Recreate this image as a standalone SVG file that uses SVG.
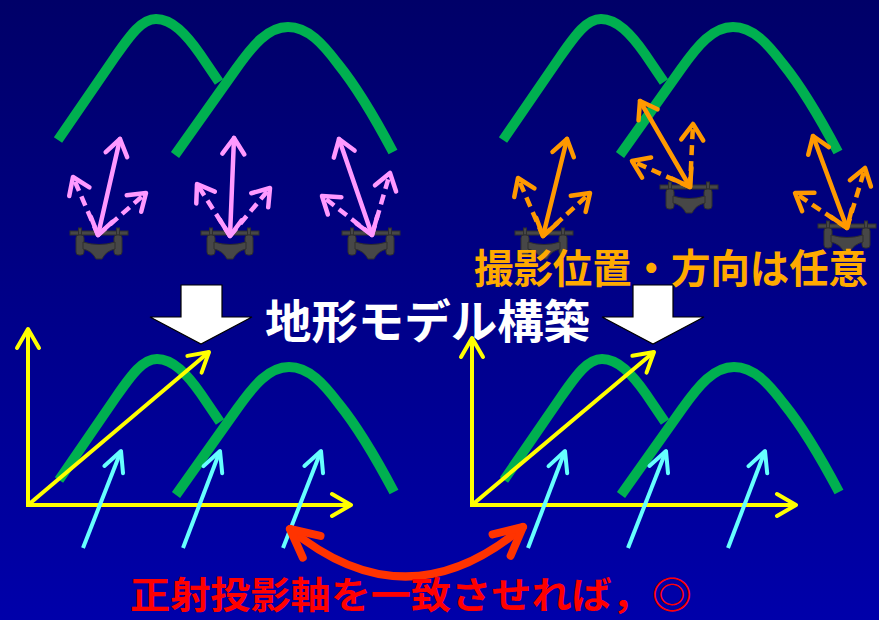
<svg xmlns="http://www.w3.org/2000/svg" width="879" height="620" viewBox="0 0 879 620">
  <defs>
    <linearGradient id="bg" x1="0" y1="0" x2="0" y2="1">
      <stop offset="0" stop-color="#000068"/>
      <stop offset="1" stop-color="#0000AA"/>
    </linearGradient>
    <style>
      .ridge { fill: none; stroke: #00B050; stroke-width: 10; stroke-linejoin: round; }
      .pink { fill: none; stroke: #FF99FF; stroke-width: 4.5; stroke-linecap: round; }
      .orange { fill: none; stroke: #FF9900; stroke-width: 4.5; stroke-linecap: round; }
      .dash { stroke-dasharray: 10 6; stroke-linecap: butt; }
      .axis { fill: none; stroke: #FFFF00; stroke-width: 4; stroke-linejoin: miter; }
      .ray { fill: none; stroke: #66FFFF; stroke-width: 4; }
      .swap { fill: none; stroke: #FF3300; stroke-width: 8; stroke-linecap: round; }
      .block { fill: #FFFFFF; stroke: #000000; stroke-width: 1.2; }
      .label { font-family: "Noto Sans CJK JP", "Noto Sans", sans-serif; font-weight: bold; }
    </style>
    <marker id="hPink" viewBox="-22 -16 26 32" refX="0" refY="0" markerWidth="26" markerHeight="32" markerUnits="userSpaceOnUse" orient="auto-start-reverse" overflow="visible">
      <path d="M-16,-11 L0,0 L-16,11" fill="none" stroke="#FF99FF" stroke-width="4.5" stroke-linecap="round" stroke-linejoin="round" stroke-dasharray="none"/>
    </marker>
    <marker id="hOrange" viewBox="-22 -16 26 32" refX="0" refY="0" markerWidth="26" markerHeight="32" markerUnits="userSpaceOnUse" orient="auto-start-reverse" overflow="visible">
      <path d="M-16,-11 L0,0 L-16,11" fill="none" stroke="#FF9900" stroke-width="4.5" stroke-linecap="round" stroke-linejoin="round" stroke-dasharray="none"/>
    </marker>
    <marker id="hYellow" viewBox="-24 -14 28 28" refX="0" refY="0" markerWidth="28" markerHeight="28" markerUnits="userSpaceOnUse" orient="auto-start-reverse" overflow="visible">
      <path d="M-19,-11 L0,0 L-19,11" fill="none" stroke="#FFFF00" stroke-width="4" stroke-linecap="round" stroke-linejoin="round"/>
    </marker>
    <marker id="hCyan" viewBox="-24 -14 28 28" refX="0" refY="0" markerWidth="28" markerHeight="28" markerUnits="userSpaceOnUse" orient="auto" overflow="visible">
      <path d="M-20,-10 L0,0 L-20,10" fill="none" stroke="#66FFFF" stroke-width="4" stroke-linecap="round" stroke-linejoin="round"/>
    </marker>
    <marker id="hRed" viewBox="-34 -20 38 40" refX="0" refY="0" markerWidth="38" markerHeight="40" markerUnits="userSpaceOnUse" orient="auto-start-reverse" overflow="visible">
      <path d="M-28,-14 L0,0 L-28,14" fill="none" stroke="#FF3300" stroke-width="8" stroke-linecap="round" stroke-linejoin="round"/>
    </marker>
    <!-- terrain profile: two overlapping hills -->
    <g id="hills">
      <path class="ridge" d="M58,140 L115,57 C131,34 142,19 156,19 C172,19 186,34 200,54 L219,82"/>
      <path class="ridge" d="M175,155 L236,69 C253,45 268,27 288,27 C308,27 323,44 338,64 C355,85 375,118 393,152"/>
    </g>
    <!-- quadcopter seen from the front, origin at rotor bar centre -->
    <g id="drone" fill="#474747" stroke="#2E2E2E" stroke-width="1">
      <rect x="-29" y="-2" width="58" height="4"/>
      <rect x="-20.5" y="-5" width="3" height="7"/>
      <rect x="17.5" y="-5" width="3" height="7"/>
      <rect x="-23" y="2" width="8" height="20" rx="3"/>
      <rect x="15" y="2" width="8" height="20" rx="3"/>
      <path d="M-16,9 Q0,14 16,9 L16,16 Q7,18 3,26 L-3,26 Q-7,18 -16,16 Z"/>
    </g>
  </defs>

  <rect width="879" height="620" fill="url(#bg)"/>

  <!-- terrain, four panels -->
  <g id="terrain-top-left"><use href="#hills"/></g>
  <g id="terrain-top-right"><use href="#hills" transform="translate(445,0)"/></g>
  <g id="terrain-bottom-left"><use href="#hills" transform="translate(1,340)"/></g>
  <g id="terrain-bottom-right"><use href="#hills" transform="translate(446,340)"/></g>

  <!-- drones -->
  <g id="drone-p1"><use href="#drone" x="99" y="233"/></g>
  <g id="drone-p2"><use href="#drone" x="230" y="233"/></g>
  <g id="drone-p3"><use href="#drone" x="371" y="233"/></g>
  <g id="drone-o1"><use href="#drone" x="544" y="233"/></g>
  <g id="drone-o2"><use href="#drone" x="689" y="187"/></g>
  <g id="drone-o3"><use href="#drone" x="847" y="226"/></g>

  <!-- viewing directions -->
  <g id="connectors">
    <g id="views-regular">
      <path class="pink" d="M98,235 L120,139" marker-start="url(#hPink)" marker-end="url(#hPink)"/>
      <path class="pink dash" d="M98,235 L73,177" marker-end="url(#hPink)"/>
      <path class="pink dash" d="M98,235 L146,193" marker-end="url(#hPink)"/>
      <path class="pink" d="M230,236 L234,138" marker-start="url(#hPink)" marker-end="url(#hPink)"/>
      <path class="pink dash" d="M230,236 L197,184" marker-end="url(#hPink)"/>
      <path class="pink dash" d="M230,236 L270,188" marker-end="url(#hPink)"/>
      <path class="pink" d="M372,235 L339,139" marker-start="url(#hPink)" marker-end="url(#hPink)"/>
      <path class="pink dash" d="M372,235 L322,196" marker-end="url(#hPink)"/>
      <path class="pink dash" d="M372,235 L390,173" marker-end="url(#hPink)"/>
    </g>
    <g id="views-arbitrary">
      <path class="orange" d="M543,236 L567,139" marker-start="url(#hOrange)" marker-end="url(#hOrange)"/>
      <path class="orange dash" d="M543,236 L518,178" marker-end="url(#hOrange)"/>
      <path class="orange dash" d="M543,236 L590,193" marker-end="url(#hOrange)"/>
      <path class="orange" d="M690,187 L640,101" marker-start="url(#hOrange)" marker-end="url(#hOrange)"/>
      <path class="orange dash" d="M690,187 L693,124" marker-end="url(#hOrange)"/>
      <path class="orange dash" d="M690,187 L632,161" marker-end="url(#hOrange)"/>
      <path class="orange" d="M847,228 L813,136" marker-start="url(#hOrange)" marker-end="url(#hOrange)"/>
      <path class="orange dash" d="M847,228 L795,193" marker-end="url(#hOrange)"/>
      <path class="orange dash" d="M847,228 L865,168" marker-end="url(#hOrange)"/>
    </g>
    <g id="axes">
      <path class="axis" d="M28,329 L28,505 L351,505" marker-start="url(#hYellow)" marker-end="url(#hYellow)"/>
      <path class="axis" d="M28,505 L209,352" marker-end="url(#hYellow)"/>
      <path class="axis" d="M472,338 L472,505 L796,505" marker-start="url(#hYellow)" marker-end="url(#hYellow)"/>
      <path class="axis" d="M472,505 L654,352" marker-end="url(#hYellow)"/>
    </g>
    <g id="projection-rays">
      <path class="ray" d="M83,548 L121,451" marker-end="url(#hCyan)"/>
      <path class="ray" d="M183,548 L220,451" marker-end="url(#hCyan)"/>
      <path class="ray" d="M283,548 L321,451" marker-end="url(#hCyan)"/>
      <path class="ray" d="M528,548 L565,451" marker-end="url(#hCyan)"/>
      <path class="ray" d="M628,548 L666,451" marker-end="url(#hCyan)"/>
      <path class="ray" d="M728,548 L765,451" marker-end="url(#hCyan)"/>
    </g>
    <path id="align-arrow" class="swap" d="M290,529 Q407,625 523,527" marker-start="url(#hRed)" marker-end="url(#hRed)"/>
  </g>

  <!-- build-model block arrows -->
  <g id="block-arrow-left"><polygon class="block" points="181,285 222,285 222,317 252,317 201,344 150,317 181,317"/></g>
  <g id="block-arrow-right"><polygon class="block" points="633,285 673,285 673,317 704,317 653,344 602,317 633,317"/></g>

  <!-- captions -->
  <g id="caption-arbitrary"><text class="label" x="474" y="283" font-size="40" fill="#FFAA00" textLength="394" lengthAdjust="spacingAndGlyphs">撮影位置・方向は任意</text></g>
  <g id="caption-model"><text class="label" x="265" y="338" font-size="46" fill="#FFFFFF" textLength="325" lengthAdjust="spacingAndGlyphs">地形モデル構築</text></g>
  <g id="caption-axis"><text class="label" x="130" y="609" font-size="37" fill="#FF0000" textLength="562" lengthAdjust="spacingAndGlyphs">正射投影軸を一致させれば，◎</text></g>
</svg>
